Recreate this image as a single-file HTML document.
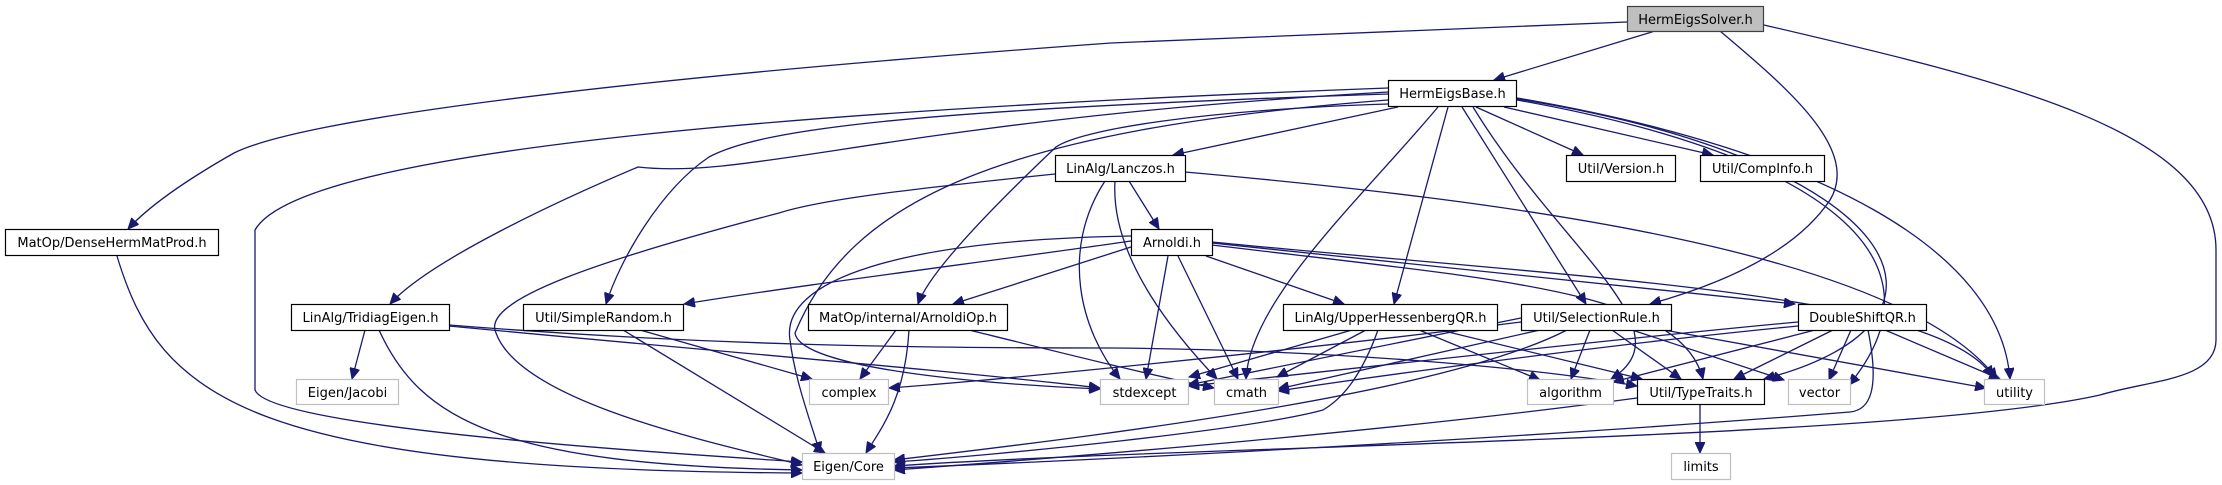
<!DOCTYPE html>
<html><head><meta charset="utf-8"><style>
html,body{margin:0;padding:0;background:#fff;}
svg{display:block}
text{font-family:"DejaVu Sans","Liberation Sans",sans-serif;font-size:13px;fill:#000;text-anchor:middle}
.e{fill:none;stroke:#191970;stroke-width:1.3}
</style></head><body>
<svg width="2222" height="485" viewBox="0 0 2222 485" xmlns="http://www.w3.org/2000/svg">
<defs>
<marker id="a" markerUnits="userSpaceOnUse" markerWidth="12" markerHeight="10" refX="11" refY="5" orient="auto">
<path d="M0,0 L11,5 L0,10 Z" fill="#191970" stroke="#191970"/>
</marker>
</defs>
<g class="e" marker-end="url(#a)">
<!-- HermEigsSolver -->
<path d="M1655,31 L1494,80"/>
<path d="M1627,22 C1300,35 1150,40 1111,43 C600,80 300,120 234,153 C190,178 150,205 128,229"/>
<path d="M1720,31 C1790,90 1860,150 1830,200 C1790,260 1700,290 1650,304"/>
<path d="M1764,25 C2000,80 2216,130 2216,250 L2216,340 C2216,380 2150,380 2100,395 C1900,440 1200,445 894,466"/>
<!-- HermEigsBase -->
<path d="M1398,107 L1173,155"/>
<path d="M1476,107 L1583,155"/>
<path d="M1504,107 L1713,155"/>
<path d="M1448,107 L1394,304"/>
<path d="M1438,107 C1360,200 1250,300 1246,379"/>
<path d="M1462,107 L1586,304"/>
<path d="M1473,107 C1560,250 1690,330 1611,379"/>
<path d="M1517,98 C1820,150 2000,250 2010,379"/>
<path d="M1517,100 C1800,150 1960,250 1849,385"/>
<path d="M1517,99 C1900,160 1990,320 1764,379"/>
<path d="M1388,88 C800,110 300,150 255,230 L255,390 C270,430 700,455 802,462"/>
<path d="M1388,92 C900,120 750,180 638,167 C560,200 430,260 390,304"/>
<path d="M1388,94 C900,110 760,130 709,157 C660,190 620,260 606,304"/>
<path d="M1388,100 C1000,130 850,200 795,333 C800,370 1000,385 1100,389"/>
<path d="M1388,104 C1200,110 1080,130 1056,147 C1000,200 930,270 918,304"/>
<!-- Lanczos -->
<path d="M1129,181 L1159,229"/>
<path d="M1055,174 C900,190 820,200 779,213 C600,260 480,300 496,333 C520,400 700,440 802,465"/>
<path d="M1105,181 C1060,250 1080,330 1120,379"/>
<path d="M1115,181 C1110,260 1180,340 1217,379"/>
<path d="M1185,172 C1500,200 1900,250 1997,379"/>
<!-- Arnoldi -->
<path d="M1131,241 C1000,260 800,285 684,304"/>
<path d="M1131,247 L953,304"/>
<path d="M1131,236 C900,240 780,280 790,340 C795,380 810,420 820,453"/>
<path d="M1168,256 L1146,379"/>
<path d="M1178,256 L1238,379"/>
<path d="M1206,256 L1344,304"/>
<path d="M1212,245 C1500,280 1680,290 1703,379"/>
<path d="M1212,243 L1795,304"/>
<path d="M1212,242 C1600,280 1940,293 1993,377"/>
<!-- UpperHessenbergQR -->
<path d="M1352,330 L1189,377"/>
<path d="M1366,330 L1277,377"/>
<path d="M1378,330 C1360,380 1340,400 1323,410 C1250,430 1000,455 894,462"/>
<path d="M1419,330 L1540,380"/>
<path d="M1440,330 L1642,379"/>
<!-- SelectionRule -->
<path d="M1521,318 L1188,385"/>
<path d="M1540,330 L1278,389"/>
<path d="M1521,322 C1300,350 1000,380 889,388"/>
<path d="M1567,330 C1450,390 1150,430 894,460"/>
<path d="M1590,330 L1571,379"/>
<path d="M1612,330 L1681,379"/>
<path d="M1632,330 L1784,380"/>
<path d="M1664,330 L1986,388"/>
<!-- DoubleShiftQR -->
<path d="M1798,322 C1600,340 1300,375 1188,386"/>
<path d="M1798,326 C1600,345 1350,380 1278,391"/>
<path d="M1815,330 L1613,382"/>
<path d="M1833,330 L1734,379"/>
<path d="M1851,330 L1829,380"/>
<path d="M1885,330 L2000,379"/>
<path d="M1868,330 C1880,390 1870,410 1850,412 C1500,440 1100,460 894,468"/>
<!-- TridiagEigen -->
<path d="M365,330 L352,379"/>
<path d="M379,330 C420,420 500,465 802,470"/>
<path d="M449,326 C700,350 950,370 1100,388"/>
<path d="M449,325 C700,345 900,348 1111,348 C1350,350 1550,370 1637,386"/>
<!-- SimpleRandom -->
<path d="M640,330 L812,379"/>
<path d="M623,330 L825,453"/>
<!-- ArnoldiOp -->
<path d="M896,330 L860,379"/>
<path d="M909,330 C905,400 880,430 866,453"/>
<path d="M969,330 C1050,350 1150,375 1214,388"/>
<!-- TypeTraits -->
<path d="M1700,404 L1700,453"/>
<path d="M1637,398 C1400,430 1100,455 894,470"/>
<!-- DenseHermMatProd -->
<path d="M117,256 C160,400 250,470 802,473"/>
</g>
<g stroke-width="1.2">
<rect x="1627.5" y="6.5" width="136" height="25" fill="#bfbfbf" stroke="#404040"/>
<text x="1695.5" y="24">HermEigsSolver.h</text>
<rect x="1388.5" y="80.5" width="128" height="26" fill="#fff" stroke="#000"/>
<text x="1452.5" y="98">HermEigsBase.h</text>
<rect x="1055.5" y="155.5" width="130" height="26" fill="#fff" stroke="#000"/>
<text x="1120.5" y="173">LinAlg/Lanczos.h</text>
<rect x="1566.5" y="155.5" width="109" height="26" fill="#fff" stroke="#000"/>
<text x="1621" y="173">Util/Version.h</text>
<rect x="1700.5" y="155.5" width="124" height="26" fill="#fff" stroke="#000"/>
<text x="1762.5" y="173">Util/CompInfo.h</text>
<rect x="5.5" y="229.5" width="213" height="26" fill="#fff" stroke="#000"/>
<text x="112" y="247">MatOp/DenseHermMatProd.h</text>
<rect x="1131.5" y="229.5" width="81" height="26" fill="#fff" stroke="#000"/>
<text x="1172" y="247">Arnoldi.h</text>
<rect x="291.5" y="304.5" width="158" height="26" fill="#fff" stroke="#000"/>
<text x="370.5" y="322">LinAlg/TridiagEigen.h</text>
<rect x="523.5" y="304.5" width="160" height="26" fill="#fff" stroke="#000"/>
<text x="603.5" y="322">Util/SimpleRandom.h</text>
<rect x="808.5" y="304.5" width="199" height="26" fill="#fff" stroke="#000"/>
<text x="908" y="322">MatOp/internal/ArnoldiOp.h</text>
<rect x="1283.5" y="304.5" width="214" height="26" fill="#fff" stroke="#000"/>
<text x="1390.5" y="322">LinAlg/UpperHessenbergQR.h</text>
<rect x="1521.5" y="304.5" width="150" height="26" fill="#fff" stroke="#000"/>
<text x="1596.5" y="322">Util/SelectionRule.h</text>
<rect x="1798.5" y="304.5" width="128" height="26" fill="#fff" stroke="#000"/>
<text x="1862.5" y="322">DoubleShiftQR.h</text>
<rect x="296.5" y="379.5" width="102" height="25" fill="#fff" stroke="#bfbfbf"/>
<text x="347.5" y="397">Eigen/Jacobi</text>
<rect x="809.5" y="379.5" width="79" height="25" fill="#fff" stroke="#bfbfbf"/>
<text x="849" y="397">complex</text>
<rect x="1100.5" y="379.5" width="88" height="25" fill="#fff" stroke="#bfbfbf"/>
<text x="1144.5" y="397">stdexcept</text>
<rect x="1214.5" y="379.5" width="64" height="25" fill="#fff" stroke="#bfbfbf"/>
<text x="1246.5" y="397">cmath</text>
<rect x="1527.5" y="379.5" width="86" height="25" fill="#fff" stroke="#bfbfbf"/>
<text x="1570.5" y="397">algorithm</text>
<rect x="1637.5" y="379.5" width="127" height="25" fill="#fff" stroke="#000"/>
<text x="1701" y="397">Util/TypeTraits.h</text>
<rect x="1788.5" y="379.5" width="62" height="25" fill="#fff" stroke="#bfbfbf"/>
<text x="1819.5" y="397">vector</text>
<rect x="1984.5" y="379.5" width="60" height="25" fill="#fff" stroke="#bfbfbf"/>
<text x="2014.5" y="397">utility</text>
<rect x="802.5" y="453.5" width="92" height="26" fill="#fff" stroke="#bfbfbf"/>
<text x="848.5" y="471">Eigen/Core</text>
<rect x="1671.5" y="453.5" width="59" height="26" fill="#fff" stroke="#bfbfbf"/>
<text x="1701" y="471">limits</text>
</g>
</svg>
</body></html>
